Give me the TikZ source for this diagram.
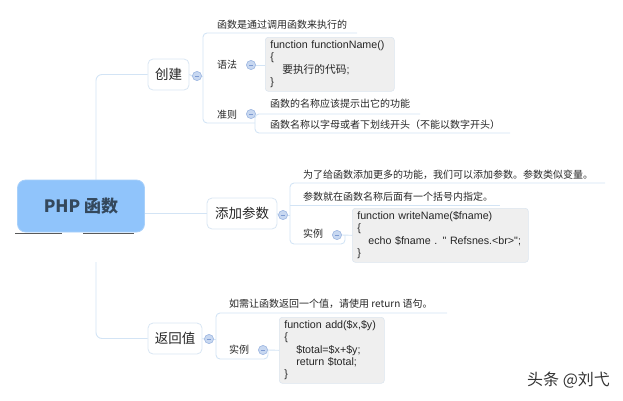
\documentclass[tikz,border=0pt]{standalone}
\usepackage{fontspec}
\setmainfont{Noto Sans CJK SC}
\newfontfamily\lat{Liberation Sans}
\newfontfamily\cjk{Noto Sans CJK SC}
\definecolor{linec}{HTML}{D3E4F5}
\definecolor{boxb}{HTML}{D9E6F3}
\definecolor{circf}{HTML}{C8D8F1}
\definecolor{circd}{HTML}{A4BCE3}
\definecolor{minusc}{HTML}{7E9BD2}
\definecolor{rootf}{HTML}{90C4FB}
\definecolor{rootd}{HTML}{A8D0FA}
\definecolor{roott}{HTML}{34485C}
\definecolor{codef}{HTML}{EFEFEF}
\definecolor{coded}{HTML}{DCE5EE}
\definecolor{textc}{HTML}{262626}
\tikzset{
  conn/.style={draw=linec, line width=0.9pt},
  topic/.style={draw=boxb, fill=white, rounded corners=5pt, line width=0.8pt, inner sep=0pt,
    minimum height=31pt, text=textc, font=\fontsize{13.5}{16}\selectfont},
  rootbox/.style={draw=rootd, fill=rootf, rounded corners=8pt, line width=0.8pt, inner sep=0pt,
    minimum width=127pt, minimum height=52pt, text=roott, font=\bfseries\fontsize{17}{19}\selectfont},
  circ/.style={circle, draw=circd, fill=circf, line width=0.6pt, inner sep=0pt, minimum size=9pt,
    path picture={\draw[minusc, line width=0.6pt] ([xshift=-2.2pt]path picture bounding box.center) -- ([xshift=2.2pt]path picture bounding box.center);}},
  txt/.style={anchor=west, inner sep=0pt, text=textc, font=\fontsize{10}{12}\selectfont},
  code/.style={draw=coded, fill=codef, rounded corners=3pt, line width=0.6pt, anchor=north west,
    align=left, inner xsep=5pt, inner ysep=0pt, text=textc, font=\lat\fontsize{10.7}{12.4}\selectfont},
  ulmark/.style={draw=black!65, line width=0.6pt}
}
\begin{document}
\begin{tikzpicture}[x=1pt, y=-1pt]
\useasboundingbox (0,0) rectangle (623,400);

% topic boxes
\node[topic, minimum width=41pt] (create) at (168.5,74.5) {创建};
\node[topic, minimum width=70pt] (param) at (242,213.5) {添加参数};
\node[topic, minimum width=54pt] (ret) at (175,338.5) {返回值};

% circles
\node[circ] (cc) at (197,76) {};
\node[circ] (sc) at (251,65) {};
\node[circ] (rc) at (251,114) {};
\node[circ] (pc) at (283,215) {};
\node[circ] (ec1) at (337,235) {};
\node[circ] (vc) at (209,339) {};
\node[circ] (ec2) at (263,350) {};

% texts
\node[txt] (t1) at (217,25) {函数是通过调用函数来执行的};
\node[txt] (syn) at (217,65) {语法};
\node[txt] (rule) at (217,115) {准则};
\node[txt] (r1) at (270,104) {函数的名称应该提示出它的功能};
\node[txt] (r2) at (270,125) {函数名称以字母或者下划线开头（不能以数字开头）};
\node[txt] (p1) at (303,175) {为了给函数添加更多的功能，我们可以添加参数。参数类似变量。};
\node[txt] (p2) at (303,197) {参数就在函数名称后面有一个括号内指定。};
\node[txt] (ex1) at (303,234) {实例};
\node[txt] (v1) at (229,304) {如需让函数返回一个值，请使用 return 语句。};
\node[txt] (ex2) at (229,350) {实例};

% code boxes
\node[code, text width=119pt, minimum height=54pt] (code1) at (265,37)
  {function functionName()\\ \{\\ \hspace*{12pt}{\cjk 要执行的代码};\\ \}};
\node[code, text width=166pt, minimum height=54pt] (code2) at (352,208)
  {function writeName(\$fname)\\ \{\\ \hspace*{11pt}echo \$fname . " Refsnes.<br>";\\ \}};
\node[code, text width=95pt, minimum height=66pt] (code3) at (279,317)
  {function add(\$x,\$y)\\ \{\\ \hspace*{12pt}\$total=\$x+\$y;\\ \hspace*{12pt}return \$total;\\ \}};

% coordinates for connectors
\coordinate (tA) at (96,180);
\coordinate (tB) at (96,262);
\coordinate (c1top) at (357,33);
\coordinate (c1v) at (203,76);
\coordinate (c1bot) at (255,123);
\coordinate (rtop) at (420,114);
\coordinate (rv) at (255,114);
\coordinate (rbot) at (510,133);
\coordinate (ptop) at (605,183);
\coordinate (pv) at (290,215);
\coordinate (pmidA) at (290,205);
\coordinate (pmidB) at (500,205);
\coordinate (pbot) at (345,235);
\coordinate (vtop) at (447,313);
\coordinate (vv) at (216,339);
\coordinate (vbot) at (268,350);

% connectors
\draw[conn, rounded corners=6pt] (create.west) -| (tA);
\draw[conn, rounded corners=6pt] (tB) |- (ret.west);
\draw[conn] (create.east) -- (cc.west);
\draw[conn] (cc.east) -- (c1v);
\draw[conn, rounded corners=4pt] (c1top) -- (203,33) -- (203,123) -- (c1bot);
\draw[conn] (sc.east) -- (code1.west |- sc.east);
\draw[conn] (rc.east) -- (rv);
\draw[conn, rounded corners=4pt] (rtop) -- (rv) -- (255,133) -- (rbot);

\draw[conn] (ret.east) -- (vc.west);
\draw[conn] (vc.east) -- (vv);
\draw[conn, rounded corners=4pt] (vtop) -- (216,313) -- (216,359) -- (268,359) -- (vbot);
\draw[conn] (ec2.east) -- (code3.west);

\draw[conn] (param.east) -- (pc.west);
\draw[conn] (pc.east) -- (pv);
\draw[conn, rounded corners=4pt] (ptop) -- (290,183) -- (290,244) -- (345,244) -- (pbot);
\draw[conn] (pmidA) -- (pmidB);
\draw[conn] (ec1.east) -- (code2.west);

% root
\node[rootbox] (root) at (81,206) {PHP 函数};
\draw[conn] (root.east |- param.west) -- (param.west);
\draw[ulmark] (15,233) -- (62,233);
\draw[ulmark] (83,233) -- (134,233);

% redraw circles on top
\foreach \c in {cc,sc,rc,pc,ec1,vc,ec2} {\node[circ] at (\c.center) {};}

% watermark
\node[anchor=west, inner sep=0pt, text=black!80, font=\cjk\fontsize{16}{18}\selectfont] (wm) at (527,380) {头条 @刘弋};
\end{tikzpicture}
\end{document}
